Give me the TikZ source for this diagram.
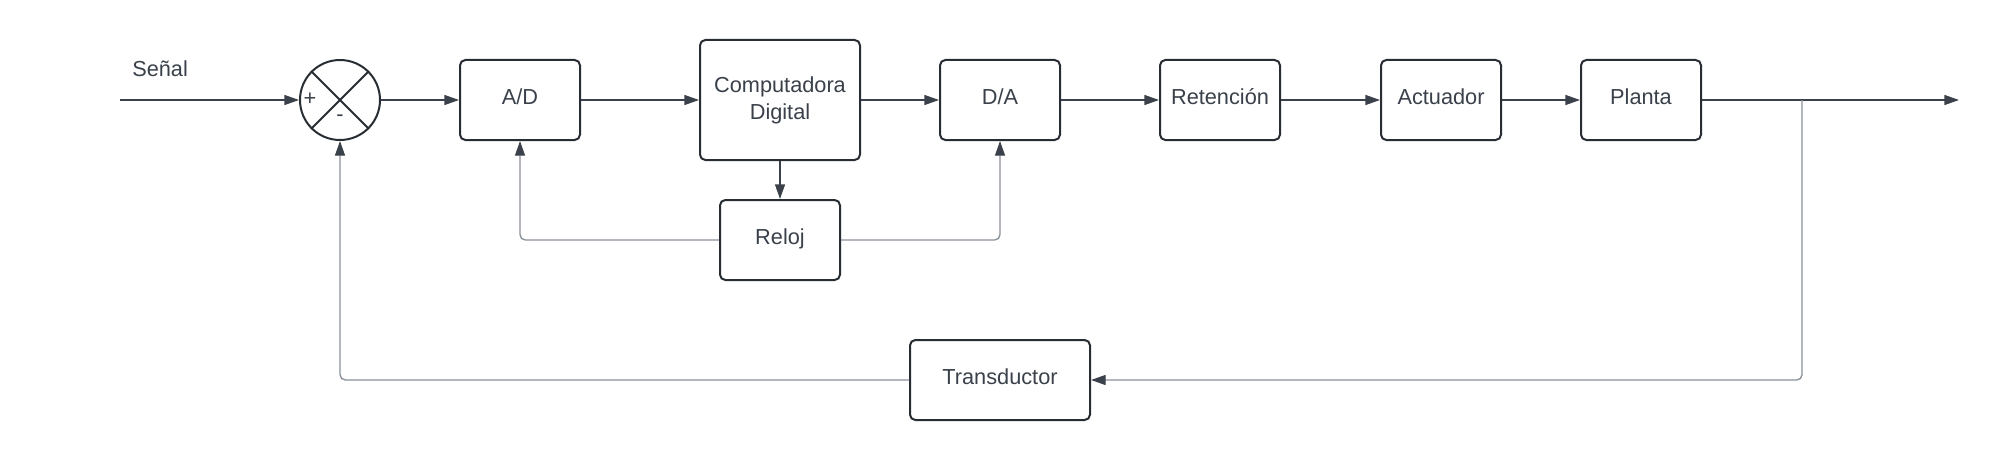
\documentclass[tikz,border=0pt]{standalone}
\usepackage{fontspec}
\setmainfont{Liberation Sans}
\usetikzlibrary{arrows.meta}
\definecolor{boxc}{HTML}{282C33}
\definecolor{linec}{HTML}{3A414A}
\definecolor{greyc}{HTML}{8A9099}
\begin{document}
\begin{tikzpicture}[x=0.75pt,y=-0.75pt,
  lbl/.style={text=linec, font=\fontsize{16.3}{20.3}\selectfont, inner sep=0pt},
  blk/.style={draw=boxc, line width=1.5pt, rounded corners=4pt, fill=white, text=linec,
    minimum width=90pt, minimum height=60pt, inner sep=0pt, align=center,
    font=\fontsize{16.3}{20.3}\selectfont},
  oneline/.style={blk, text height=12pt, text depth=5pt},
  sumnode/.style={draw=boxc, line width=1.5pt, circle, minimum size=60pt, inner sep=0pt},
  conn/.style={draw=linec, line width=1pt, -{Triangle[length=11pt,width=7.5pt]}},
  gconn/.style={draw=greyc, line width=1pt, rounded corners=4pt, -{Triangle[length=11pt,width=7.5pt,color=linec]}}]
\useasboundingbox (0,0) rectangle (1998,460);
\coordinate (in) at (120,100);
\coordinate (out) at (1959,100);
\coordinate (br) at (1802,100);
\node[sumnode] (sum) at (340,100) {};
\draw[draw=boxc, line width=1.5pt] (sum.north west) -- (sum.south east) (sum.north east) -- (sum.south west);
\node[lbl] (plus) at (310,99) {+};
\node[lbl] (minus) at (340,118) {-};
\node[lbl, anchor=west] (senal) at (132,69) {Señal};
\node[oneline] (ad) at (520,100) {A/D};
\node[blk, minimum width=120pt, minimum height=90pt] (comp) at (780,100) {Computadora\\Digital};
\node[oneline] (da) at (1000,100) {D/A};
\node[oneline] (ret) at (1220,100) {Retención};
\node[oneline] (act) at (1441,100) {Actuador};
\node[oneline] (pla) at (1641,100) {Planta};
\node[oneline] (rel) at (780,240) {Reloj};
\node[oneline, minimum width=135pt] (tra) at (1000,380) {Transductor};
\draw[conn] (in) -- (sum.west);
\draw[conn] (sum.east) -- (ad.west);
\draw[conn] (ad.east) -- (comp.west);
\draw[conn] (comp.east) -- (da.west);
\draw[conn] (da.east) -- (ret.west);
\draw[conn] (ret.east) -- (act.west);
\draw[conn] (act.east) -- (pla.west);
\draw[conn] (pla.east) -- (out);
\draw[conn] (comp.south) -- (rel.north);
\draw[gconn] (rel.west) -| (ad.south);
\draw[gconn] (rel.east) -| (da.south);
\draw[gconn] (br) |- (tra.east);
\draw[gconn] (tra.west) -| (sum.south);
\end{tikzpicture}
\end{document}
